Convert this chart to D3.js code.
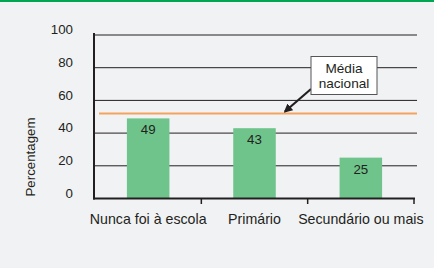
<!DOCTYPE html>
<html><head><meta charset="utf-8">
<script src="https://cdn.jsdelivr.net/npm/d3@7"></script>
<style>
html,body{margin:0;padding:0;background:#f1f2f4;}
svg{display:block;font-family:"Liberation Sans",Arial,sans-serif;}
</style></head>
<body>
<script>
const categories = ["Nunca foi à escola", "Primário", "Secundário ou mais"];
const values = [49, 43, 25];
const nationalAverage = 52;
const yTicks = [0, 20, 40, 60, 80, 100];
const yLabel = "Percentagem";
const noteLines = ["Média", "nacional"];

const W = 434, H = 268;
const svg = d3.select("body").append("svg").attr("width", W).attr("height", H);
svg.append("rect").attr("width", W).attr("height", H).attr("fill", "#f1f2f4");
svg.append("rect").attr("x", 0).attr("y", 0).attr("width", W).attr("height", 2).attr("fill", "#00a651");

const x = d3.scaleBand().domain(categories).range([95, 414]).paddingInner(0.6).paddingOuter(0.3);
const y = d3.scaleLinear().domain([0, 100]).range([198.5, 35]);
const ink = "#231f20";
const step = x.step();

// gridlines
svg.append("g").selectAll("line").data(yTicks.filter(d => d > 0)).join("line")
  .attr("x1", 94).attr("x2", 417).attr("y1", d => y(d)).attr("y2", d => y(d))
  .attr("stroke", ink).attr("stroke-width", 1);

// y tick labels
svg.append("g").selectAll("text").data(yTicks).join("text")
  .attr("x", 73).attr("y", d => y(d)).attr("dy", "-0.05em")
  .attr("text-anchor", "end").attr("font-size", 13.3).attr("fill", ink).text(d => d);

// bars
svg.append("g").selectAll("rect").data(values).join("rect")
  .attr("x", (d, i) => x(categories[i])).attr("width", x.bandwidth())
  .attr("y", d => y(d)).attr("height", d => y(0) - y(d)).attr("fill", "#6fc48b");

// bar labels
svg.append("g").selectAll("text").data(values).join("text")
  .attr("x", (d, i) => x(categories[i]) + x.bandwidth() / 2).attr("y", d => y(d) + 16)
  .attr("text-anchor", "middle").attr("font-size", 13.3).attr("fill", ink).text(d => d);

// national average line
svg.append("line").attr("x1", 99).attr("x2", 417)
  .attr("y1", y(nationalAverage)).attr("y2", y(nationalAverage))
  .attr("stroke", "#f4a35e").attr("stroke-width", 2);

// axes
svg.append("line").attr("x1", 94).attr("x2", 94).attr("y1", 33).attr("y2", 199.5).attr("stroke", ink).attr("stroke-width", 2);
svg.append("line").attr("x1", 93).attr("x2", 415).attr("y1", 198.5).attr("y2", 198.5).attr("stroke", ink).attr("stroke-width", 2);
svg.append("g").selectAll("line").data(categories).join("line")
  .attr("x1", c => x(c) + x.bandwidth() + step * x.paddingInner() / 2)
  .attr("x2", c => x(c) + x.bandwidth() + step * x.paddingInner() / 2)
  .attr("y1", 198.5).attr("y2", 204).attr("stroke", ink).attr("stroke-width", 1.5);

// x labels
svg.append("g").selectAll("text").data(categories).join("text")
  .attr("x", c => x(c) + x.bandwidth() / 2).attr("y", 224)
  .attr("text-anchor", "middle").attr("font-size", 14.2).attr("fill", ink).text(c => c);

// y label
svg.append("text").attr("transform", "translate(35,157) rotate(-90)")
  .attr("text-anchor", "middle").attr("font-size", 13.3).attr("fill", ink).text(yLabel);

// annotation
svg.append("defs").append("marker").attr("id", "ah").attr("viewBox", "0 0 10 10")
  .attr("refX", 8).attr("refY", 5).attr("markerWidth", 4).attr("markerHeight", 4)
  .attr("orient", "auto").append("path").attr("d", "M0,0L10,5L0,10z").attr("fill", ink);
svg.append("line").attr("x1", 311).attr("y1", 89).attr("x2", 285).attr("y2", 111.5)
  .attr("stroke", ink).attr("stroke-width", 2.2).attr("marker-end", "url(#ah)");
svg.append("rect").attr("x", 311).attr("y", 56.5).attr("width", 66).attr("height", 38)
  .attr("fill", "#fff").attr("stroke", "#555").attr("stroke-width", 1);
svg.append("g").selectAll("text").data(noteLines).join("text")
  .attr("x", 344).attr("y", (d, i) => 72.5 + i * 15.5)
  .attr("text-anchor", "middle").attr("font-size", 13.6).attr("fill", ink).text(d => d);
</script>
</body></html>
